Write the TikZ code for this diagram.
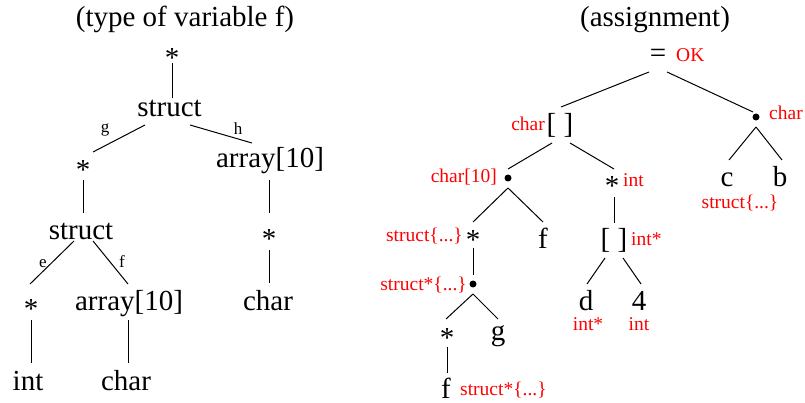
\documentclass[tikz,border=0pt]{standalone}
\usepackage{fontspec}
\setmainfont{Liberation Serif}
\begin{document}
\begin{tikzpicture}[x=1pt,y=-1pt,
  lbl/.style={inner sep=0pt, anchor=base, font=\fontsize{29}{34}\selectfont},
  ann/.style={inner sep=0pt, text=red, font=\fontsize{19.5}{23}\selectfont},
  edgelbl/.style={inner sep=0pt, anchor=base, font=\fontsize{17}{20}\selectfont},
  dotnode/.style={circle, fill=black, inner sep=0pt, minimum size=7pt},
  conn/.style={line width=1pt}]
\useasboundingbox (0,0) rectangle (805,403);
% ---------- left tree ----------
\node[lbl] (t1) at (185,27) {(type of variable f)};
\node[lbl] (a1) at (172,68) {*};
\node[lbl] (s1) at (169.5,117) {struct};
\node[lbl] (a2) at (83,180) {*};
\node[lbl] (r1) at (270,168) {array[10]};
\node[lbl] (s2) at (81,240) {struct};
\node[lbl] (a3) at (269,248) {*};
\node[lbl] (a4) at (31,318) {*};
\node[lbl] (r2) at (129,310) {array[10]};
\node[lbl] (c1) at (268,310) {char};
\node[lbl] (i1) at (28,390) {int};
\node[lbl] (c2) at (126,390) {char};
\node[edgelbl] (lg) at (105,133) {g};
\node[edgelbl] (lh) at (238,135) {h};
\node[edgelbl] (le) at (43,267) {e};
\node[edgelbl] (lf) at (122,267) {f};
\draw[conn] ([shift={(0,-5)}]a1.base) -- ([shift={(2.5,-19)}]s1.base);
\draw[conn] ([shift={(-24.5,8)}]s1.base) -- ([shift={(10,-28)}]a2.base);
\draw[conn] ([shift={(20.5,8)}]s1.base) -- ([shift={(-18,-25)}]r1.base);
\draw[conn] ([shift={(0,0)}]a2.base) -- ([shift={(2,-27)}]s2.base);
\draw[conn] ([shift={(-1,12)}]r1.base) -- ([shift={(0,-35)}]a3.base);
\draw[conn] ([shift={(-7,1)}]s2.base) -- ([shift={(-1,-34)}]a4.base);
\draw[conn] ([shift={(12,1)}]s2.base) -- ([shift={(-1,-26)}]r2.base);
\draw[conn] ([shift={(0,2)}]a3.base) -- ([shift={(1,-27)}]c1.base);
\draw[conn] ([shift={(0,2)}]a4.base) -- ([shift={(3,-27)}]i1.base);
\draw[conn] ([shift={(-1,10)}]r2.base) -- ([shift={(2,-27)}]c2.base);
% ---------- right tree ----------
\node[lbl] (t2) at (655,27) {(assignment)};
\node[lbl] (eq) at (658,63) {=};
\node[ann, anchor=base west] (tok) at (676,62) {OK};
\node[dotnode] (d1) at (756,117) {};
\node[ann, anchor=base west] (td1) at (769,120) {char};
\node[lbl] (b1) at (560,133.5) {[ ]};
\node[ann, anchor=base east] (tb1) at (545,131) {char};
\node[dotnode] (d2) at (508,178) {};
\node[ann, anchor=base east] (td2) at (497,183) {char[10]};
\node[lbl] (a5) at (612,196) {*};
\node[ann, anchor=base west] (ta5) at (623,187) {int};
\node[lbl] (nc) at (727,187) {c};
\node[lbl] (nb) at (780,187) {b};
\node[ann, anchor=base] (tnc) at (740,209) {struct\{...\}};
\node[lbl] (a6) at (473,250) {*};
\node[ann, anchor=base east] (ta6) at (463,242) {struct\{...\}};
\node[lbl] (f1) at (543,248) {f};
\node[lbl] (b2) at (614,248.5) {[ ]};
\node[ann, anchor=base west] (tb2) at (631,246) {int*};
\node[dotnode] (d3) at (473,284) {};
\node[ann, anchor=base east] (td3) at (467,290) {struct*\{...\}};
\node[lbl] (a7) at (447,347) {*};
\node[lbl] (ng) at (498,340) {g};
\node[lbl] (nd) at (586,310) {d};
\node[lbl] (n4) at (639,310) {4};
\node[ann, anchor=base] (tnd) at (588,330) {int*};
\node[ann, anchor=base] (tn4) at (639,330) {int};
\node[lbl] (f2) at (446,398) {f};
\node[ann, anchor=base west] (tf2) at (460,395) {struct*\{...\}};
\draw[conn] ([shift={(-9,9)}]eq.base) -- ([shift={(1,-26.5)}]b1.base);
\draw[conn] ([shift={(9,9)}]eq.base) -- ([shift={(-3,-5)}]d1.center);
\draw[conn] ([shift={(-8,9.5)}]b1.base) -- ([shift={(0,-9)}]d2.center);
\draw[conn] ([shift={(10,9.5)}]b1.base) -- ([shift={(2,-27)}]a5.base);
\draw[conn] ([shift={(0,10)}]d1.center) -- ([shift={(2,-27)}]nc.base);
\draw[conn] ([shift={(0,10)}]d1.center) -- ([shift={(2,-27)}]nb.base);
\draw[conn] ([shift={(0,10)}]d2.center) -- ([shift={(0,-28)}]a6.base);
\draw[conn] ([shift={(0,10)}]d2.center) -- ([shift={(0,-26)}]f1.base);
\draw[conn] ([shift={(2,1)}]a5.base) -- ([shift={(0,-25.5)}]b2.base);
\draw[conn] ([shift={(0,-2)}]a6.base) -- ([shift={(0,-9)}]d3.center);
\draw[conn] ([shift={(-9,9.5)}]b2.base) -- ([shift={(1,-26)}]nd.base);
\draw[conn] ([shift={(9,9.5)}]b2.base) -- ([shift={(2,-26)}]n4.base);
\draw[conn] ([shift={(0,10)}]d3.center) -- ([shift={(-1,-28)}]a7.base);
\draw[conn] ([shift={(0,10)}]d3.center) -- ([shift={(0,-21)}]ng.base);
\draw[conn] ([shift={(0,0)}]a7.base) -- ([shift={(1,-25)}]f2.base);
\end{tikzpicture}
\end{document}
